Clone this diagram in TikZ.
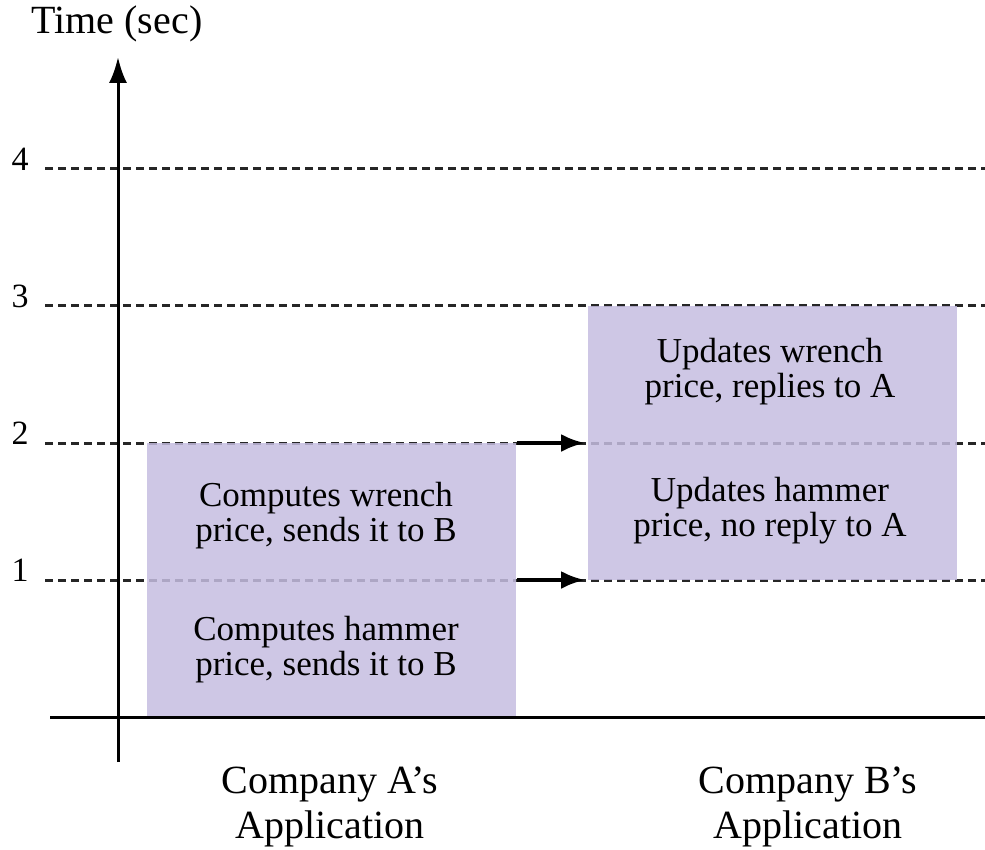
\documentclass[tikz,border=0pt]{standalone}
\usepackage{fontspec}
\setmainfont{Liberation Serif}
\usetikzlibrary{arrows.meta, positioning, calc}
\definecolor{boxfill}{RGB}{197,189,224}

\begin{document}
\begin{tikzpicture}[x=0.5pt, y=-0.5pt,
      level/.style={dash pattern=on 4pt off 2.5pt, line width=1.5pt, black!85},
      axis/.style={line width=1.5pt},
      phase/.style={fill=boxfill, fill opacity=0.85, draw=none, inner sep=0pt,
                    anchor=north west, minimum width=184.5pt, minimum height=137pt},
      task/.style={align=center, font=\fontsize{17.5}{17.5}\selectfont},
      tick/.style={font=\fontsize{17}{18}\selectfont},
      app/.style={align=center, font=\fontsize{20}{22.5}\selectfont},
      msg/.style={-{Latex[length=12pt, width=9pt]}, line width=2pt, shorten >=1.5pt}
    ]
    \useasboundingbox (0,0) rectangle (985,850);
    % time levels
    \foreach \i/\y in {1/580, 2/443, 3/306, 4/169} {
      \node[tick] (t\i) at (20,\y-10) {\i};
      \coordinate (l\i) at (45,\y);
      \coordinate (r\i) at (985,\y);
      \draw[level] (l\i) -- (r\i);
    }
    % phases of each application
    \node[phase] (boxA) at (147,443) {};
    \node[phase] (boxB) at (588,306) {};
    \node[task] (hammerA) at (326,650) {Computes hammer\\price, sends it to B};
    \node[task] (wrenchA) at (326,516) {Computes wrench\\price, sends it to B};
    \node[task] (hammerB) at (770,511) {Updates hammer\\price, no reply to A};
    \node[task] (wrenchB) at (770,372) {Updates wrench\\price, replies to A};
    % axes
    \coordinate (ybot) at (118,762);
    \coordinate (ytop) at (118,57);
    \coordinate (xleft) at (50,717);
    \coordinate (xright) at (985,717);
    \draw[axis, -{Latex[length=13pt, width=9pt]}] (ybot) -- (ytop);
    \draw[axis] (xleft) -- (xright);
    \node[app] (ylabel) at (117,24) {Time (sec)};
    % messages from A to B
    \draw[msg] (boxA.east |- l2) -- (boxB.west |- l2);
    \draw[msg] (boxA.east |- l1) -- (boxB.west |- l1);
    % application labels
    \node[app] (appA) at (330,807) {Company A’s\\Application};
    \node[app] (appB) at (808,807) {Company B’s\\Application};
  \end{tikzpicture}
\end{document}
